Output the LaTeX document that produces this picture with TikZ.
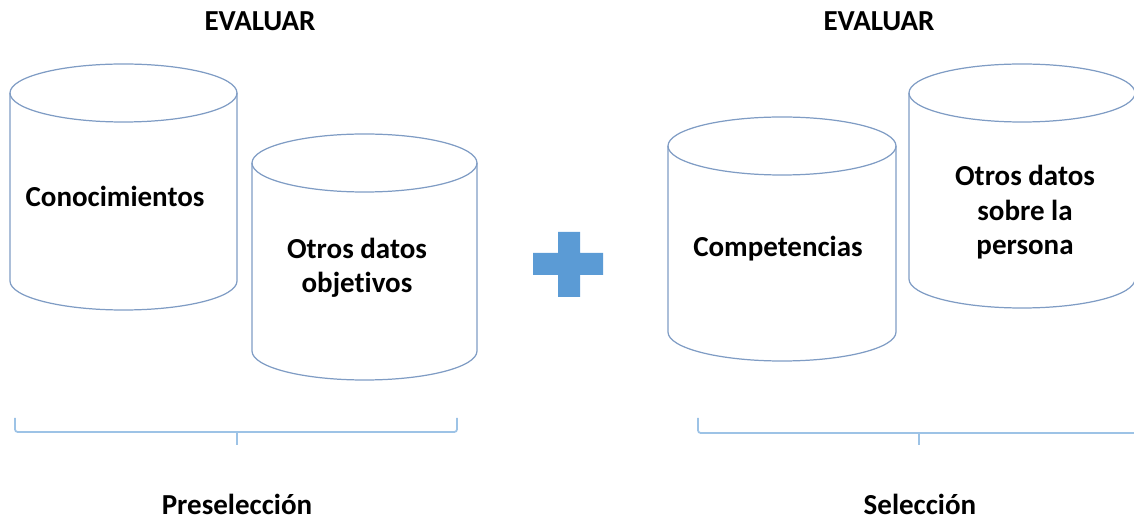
\documentclass[tikz,border=0pt]{standalone}
\usepackage{fontspec}
\setmainfont{Carlito}[Ligatures = NoCommon]
\definecolor{drumline}{HTML}{7F9CC4}
\definecolor{braceline}{HTML}{9DC3E6}
\definecolor{plusfill}{HTML}{5B9BD5}
\begin{document}
\begin{tikzpicture}[
    x = 0.02cm, y = -0.02cm, % one unit = one pixel of the layout
    drum/.style = {draw = drumline, line width = 0.7pt}, % cylinder outline
    bracket/.style = {draw = braceline, line width = 1pt, rounded corners = 1.5pt},
    label/.style = {font = \fontsize{16.5}{19.8}\selectfont\bfseries, anchor = base, inner sep = 0pt, align = center}
]
\useasboundingbox (0,0) rectangle (1134,520);

% Cylinders: centre x / x radius / top ellipse y / bottom ellipse y
\foreach \cx/\rx/\ty/\by in {123.5/113.5/93/281, 364.5/112.5/163/351, 782/114/146/332, 1022/113/93/279} {
    \draw[drum] (\cx-\rx,\ty) -- (\cx-\rx,\by) arc[start angle = 180, end angle = 0, x radius = \rx, y radius = 29] -- (\cx+\rx,\ty);
    \draw[drum] (\cx,\ty) ellipse [x radius = \rx, y radius = 29];
}

% Texts inside the cylinders (base = last line)
\node[label] (know) at (115,207) {Conocimientos};
\node[label] (obj) at (357,293) {Otros datos\\objetivos};
\node[label] (comp) at (778,257) {Competencias};
\node[label] (pers) at (1025,255) {Otros datos\\sobre la\\persona};

% Headings and group names
\node[label] (eval1) at (260,31) {EVALUAR};
\node[label] (eval2) at (879,31) {EVALUAR};
\node[label] (pre) at (237,515) {Preselección};
\node[label] (sel) at (920,515) {Selección};

% Plus sign
\fill[plusfill] (558,232) -- (580,232) -- (580,253) -- (603,253) -- (603,275) -- (580,275)
    -- (580,297) -- (558,297) -- (558,275) -- (533,275) -- (533,253) -- (558,253) -- cycle;

% Brackets
\coordinate (b1l) at (15,418);
\coordinate (b1m) at (237,445);
\coordinate (b1r) at (457,418);
\coordinate (b2l) at (698,418);
\coordinate (b2m) at (919,445);
\coordinate (b2r) at (1140,433);

\draw[bracket] (b1l) -- (b1l |- 0,432) -- (b1r |- 0,432) -- (b1r);
\draw[bracket] (b1m |- 0,432) -- (b1m);
\draw[bracket] (b2l) -- (b2l |- 0,433) -- (b2r);
\draw[bracket] (b2m |- 0,433) -- (b2m);

\end{tikzpicture}
\end{document}
